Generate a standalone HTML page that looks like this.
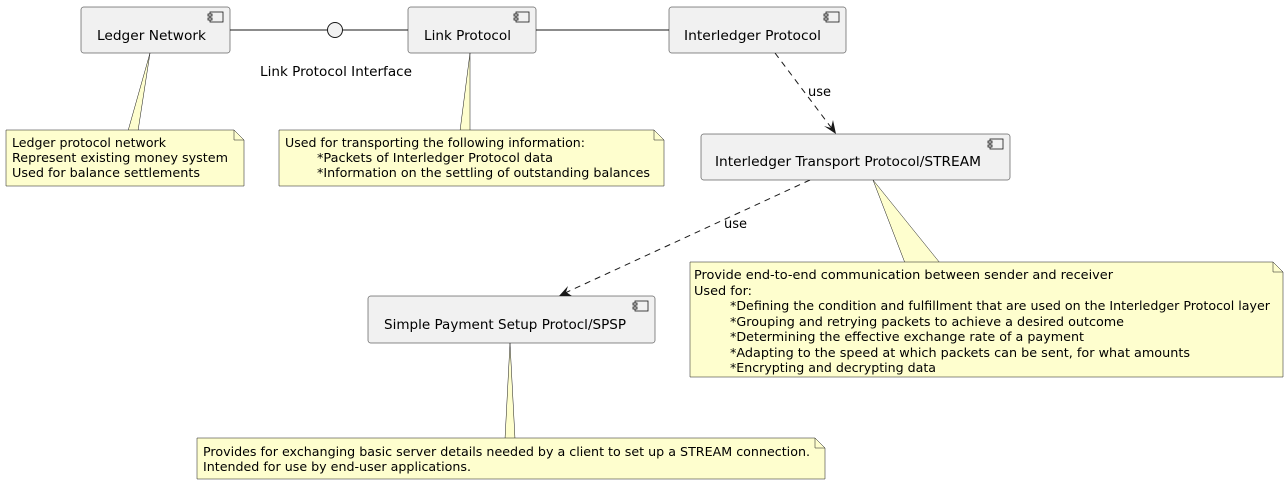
<!DOCTYPE html>
<html><head><meta charset="utf-8"><style>
html,body{margin:0;padding:0;background:#fff;}
svg{display:block;}
text{font-family:"DejaVu Sans","Liberation Sans",sans-serif;fill:#000;}
.n{font-size:12px;}
.b{font-size:13px;}
</style></head><body>
<svg width="1288" height="485" viewBox="0 0 1288 485" xmlns="http://www.w3.org/2000/svg">
<defs>
<g id="ic"><rect x="0" y="0" width="13" height="10" fill="#f1f1f1" stroke="#181818" stroke-width="0.8"/><rect x="-2" y="2" width="4" height="2" fill="#f1f1f1" stroke="#181818" stroke-width="0.8"/><rect x="-2" y="6" width="4" height="2" fill="#f1f1f1" stroke="#181818" stroke-width="0.8"/></g>
</defs>
<g stroke="#181818" stroke-width="1" fill="none">
<line x1="230" y1="30" x2="327" y2="30"/>
<line x1="343" y1="30" x2="408" y2="30"/>
<line x1="536" y1="30" x2="669" y2="30"/>
<line x1="775" y1="53" x2="833" y2="130" stroke-dasharray="6,5"/>
<line x1="810" y1="180" x2="565" y2="293" stroke-dasharray="6,5"/>
</g>
<polygon points="836,134 824,126 831,128 833,120" fill="#181818"/>
<polygon points="559,296 568,286 566,292 572,296" fill="#181818"/>
<circle cx="335" cy="30" r="7.5" fill="#f1f1f1" stroke="#181818"/>
<text class="b" x="260" y="76" textLength="152" lengthAdjust="spacingAndGlyphs">Link Protocol Interface</text>
<text class="b" x="808" y="96">use</text>
<text class="b" x="724" y="228">use</text>
<g fill="#fefece" stroke="#181818" stroke-width="0.5">
<polygon points="150,53 128,131 138,131"/>
<polygon points="470,53 460,131 470,131"/>
<polygon points="873,180 905,263 940,263"/>
<polygon points="510,343 505,439 515,439"/>
</g>
<g fill="#f1f1f1" stroke="#181818" stroke-width="0.5">
<rect x="81" y="7" width="149" height="46" rx="2.5"/>
<rect x="408" y="7" width="128" height="46" rx="2.5"/>
<rect x="669" y="7" width="177" height="46" rx="2.5"/>
<rect x="701" y="134" width="309" height="46" rx="2.5"/>
<rect x="368" y="296" width="287" height="47" rx="2.5"/>
</g>
<use href="#ic" x="210" y="12"/><use href="#ic" x="516" y="12"/><use href="#ic" x="826" y="12"/><use href="#ic" x="990" y="139"/><use href="#ic" x="635" y="301"/>
<text class="b" x="97" y="40" textLength="109" lengthAdjust="spacingAndGlyphs">Ledger Network</text>
<text class="b" x="424" y="40" textLength="87" lengthAdjust="spacingAndGlyphs">Link Protocol</text>
<text class="b" x="684" y="40" textLength="137" lengthAdjust="spacingAndGlyphs">Interledger Protocol</text>
<text class="b" x="715" y="166" textLength="266" lengthAdjust="spacingAndGlyphs">Interledger Transport Protocol/STREAM</text>
<text class="b" x="384" y="329" textLength="242" lengthAdjust="spacingAndGlyphs">Simple Payment Setup Protocl/SPSP</text>
<g fill="#fefece" stroke="#181818" stroke-width="0.5">
<path d="M6,130 H234 L244,140 V186 H6 Z"/><path d="M234,130 V140 H244" fill="none"/>
<path d="M279,130 H654 L664,140 V186 H279 Z"/><path d="M654,130 V140 H664" fill="none"/>
<path d="M690,262 H1273 L1283,272 V377 H690 Z"/><path d="M1273,262 V272 H1283" fill="none"/>
<path d="M197,438 H815 L825,448 V479 H197 Z"/><path d="M815,438 V448 H825" fill="none"/>
</g>
<g>
<text class="n" x="12" y="147" textLength="154" lengthAdjust="spacingAndGlyphs">Ledger protocol network</text>
<text class="n" x="12" y="162" textLength="216" lengthAdjust="spacingAndGlyphs">Represent existing money system</text>
<text class="n" x="12" y="177" textLength="188" lengthAdjust="spacingAndGlyphs">Used for balance settlements</text>
<text class="n" x="285" y="147" textLength="300" lengthAdjust="spacingAndGlyphs">Used for transporting the following information:</text>
<text class="n" x="317" y="162" textLength="236" lengthAdjust="spacingAndGlyphs">*Packets of Interledger Protocol data</text>
<text class="n" x="317" y="177" textLength="333" lengthAdjust="spacingAndGlyphs">*Information on the settling of outstanding balances</text>
<text class="n" x="694" y="279" textLength="419" lengthAdjust="spacingAndGlyphs">Provide end-to-end communication between sender and receiver</text>
<text class="n" x="694" y="295" textLength="58" lengthAdjust="spacingAndGlyphs">Used for:</text>
<text class="n" x="730" y="310" textLength="540" lengthAdjust="spacingAndGlyphs">*Defining the condition and fulfillment that are used on the Interledger Protocol layer</text>
<text class="n" x="730" y="326" textLength="394" lengthAdjust="spacingAndGlyphs">*Grouping and retrying packets to achieve a desired outcome</text>
<text class="n" x="730" y="341" textLength="354" lengthAdjust="spacingAndGlyphs">*Determining the effective exchange rate of a payment</text>
<text class="n" x="730" y="357" textLength="460" lengthAdjust="spacingAndGlyphs">*Adapting to the speed at which packets can be sent, for what amounts</text>
<text class="n" x="730" y="372" textLength="206" lengthAdjust="spacingAndGlyphs">*Encrypting and decrypting data</text>
<text class="n" x="203" y="456" textLength="607" lengthAdjust="spacingAndGlyphs">Provides for exchanging basic server details needed by a client to set up a STREAM connection.</text>
<text class="n" x="203" y="471" textLength="268" lengthAdjust="spacingAndGlyphs">Intended for use by end-user applications.</text>
</g>
</svg>
</body></html>
